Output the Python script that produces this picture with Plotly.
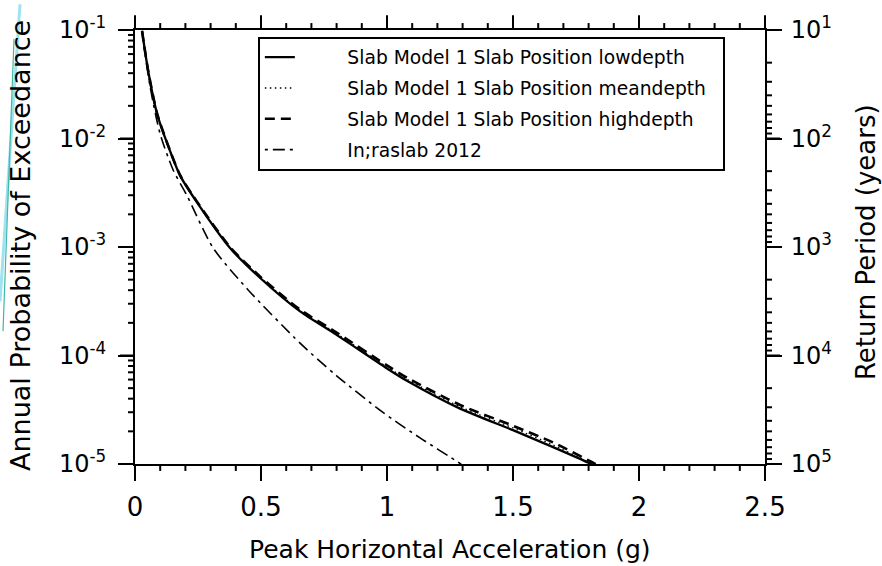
import math
import plotly.graph_objects as go

# ---- data ----
pha_low = [0.028, 0.052, 0.087, 0.127, 0.179, 0.246, 0.377, 0.50, 0.655, 0.80, 1.00, 1.079, 1.29, 1.50, 1.659, 1.794, 1.83]
poe_low = [0.098, 0.0423, 0.0171, 0.0091, 0.00455, 0.00258, 9.8e-4, 5.1e-4, 2.55e-4, 1.55e-4, 7.6e-5, 5.85e-5, 3.24e-5, 2.05e-5, 1.43e-5, 1.04e-5, 9.4e-6]

pha_mean = [0.028, 0.052, 0.087, 0.127, 0.179, 0.246, 0.377, 0.50, 0.655, 0.80, 1.00, 1.079, 1.29, 1.50, 1.659, 1.80, 1.84]
poe_mean = [0.098, 0.0423, 0.0171, 0.0091, 0.0046, 0.0026, 9.9e-4, 5.18e-4, 2.6e-4, 1.59e-4, 7.85e-5, 6.05e-5, 3.37e-5, 2.15e-5, 1.5e-5, 1.04e-5, 9.4e-6]

pha_high = [0.028, 0.052, 0.087, 0.127, 0.179, 0.246, 0.377, 0.50, 0.655, 0.80, 1.00, 1.079, 1.29, 1.50, 1.659, 1.81, 1.85]
poe_high = [0.098, 0.0424, 0.0172, 0.0092, 0.0046, 0.00262, 1.0e-3, 5.25e-4, 2.65e-4, 1.63e-4, 8.1e-5, 6.25e-5, 3.5e-5, 2.25e-5, 1.58e-5, 1.05e-5, 9.4e-6]

pha_intra = [0.028, 0.060, 0.099, 0.151, 0.206, 0.31, 0.45, 0.655, 0.80, 0.984, 1.131, 1.282, 1.31]
poe_intra = [0.098, 0.0301, 0.0112, 0.00515, 0.00299, 9.8e-4, 4.0e-4, 1.3e-4, 6.5e-5, 2.99e-5, 1.74e-5, 1.04e-5, 9.3e-6]

names = ["Slab Model 1 Slab Position lowdepth",
         "Slab Model 1 Slab Position meandepth",
         "Slab Model 1 Slab Position highdepth",
         "In;raslab 2012"]

# axes
X_RANGE = [0, 2.5]
LOGP_RANGE = [-5, -1]          # log10 of annual probability
LOGRP_RANGE = [5, 1]           # log10 of return period (reversed)
pha_major = [0, 0.5, 1.0, 1.5, 2.0, 2.5]
pha_labels = ["0", "0.5", "1", "1.5", "2", "2.5"]
pha_minor = [k / 10 for k in range(26) if k % 5 != 0]
poe_major = [1e-5, 1e-4, 1e-3, 1e-2, 1e-1]
poe_labels = ["10<sup>-5</sup>", "10<sup>-4</sup>", "10<sup>-3</sup>", "10<sup>-2</sup>", "10<sup>-1</sup>"]
poe_minor = [m * 10.0 ** e for e in range(-5, -1) for m in range(2, 10)]
rp_major = [1e1, 1e2, 1e3, 1e4, 1e5]
rp_labels = ["10<sup>1</sup>", "10<sup>2</sup>", "10<sup>3</sup>", "10<sup>4</sup>", "10<sup>5</sup>"]
rp_minor = [m * 10.0 ** e for e in range(1, 5) for m in range(2, 10)]

FONT = "DejaVu Sans"
NB = "\u00a0"
PW, PH = 630, 438   # plot-area size in px
MAJ, MIN = 15, 7    # tick lengths in px

fig = go.Figure()
styles = [dict(color="black", width=2.3),
          dict(color="black", width=1.3, dash="1.5px,3.5px"),
          dict(color="black", width=2.6, dash="10px,6px"),
          dict(color="black", width=1.6, dash="3px,5px,12px,5px")]
series = [(pha_low, poe_low), (pha_mean, poe_mean), (pha_high, poe_high), (pha_intra, poe_intra)]
for i, ((xs, ys), st) in enumerate(zip(series, styles)):
    label = NB * 8 + names[i] + (NB * 2 if i == 1 else "")
    fig.add_trace(go.Scatter(x=xs, y=ys, mode="lines", name=label,
                             legendgroup=f"g{i}", line=dict(shape="spline", smoothing=0.7, **st)))

fig.add_trace(go.Scatter(x=[None], y=[None], xaxis="x", yaxis="y2",
                         showlegend=False, hoverinfo="skip"))


# axis fractions (from the axis ranges) for the tick marks
def xf(v):
    return (v - X_RANGE[0]) / (X_RANGE[1] - X_RANGE[0])


def yf(v):
    return (math.log10(v) - LOGP_RANGE[0]) / (LOGP_RANGE[1] - LOGP_RANGE[0])


def y2f(v):
    return (math.log10(v) - LOGRP_RANGE[0]) / (LOGRP_RANGE[1] - LOGRP_RANGE[0])


tickline = dict(color="black", width=2)
shapes = []


def tick(x0, x1, y0, y1):
    shapes.append(dict(type="line", xref="paper", yref="paper", layer="below",
                       x0=x0, x1=x1, y0=y0, y1=y1, line=tickline))


for vals, L in [(pha_major, MAJ), (pha_minor, MIN)]:
    for v in vals:
        tick(xf(v), xf(v), 0, -L / PH)
        tick(xf(v), xf(v), 1, 1 + L / PH)
for vals, L in [(poe_major, MAJ), (poe_minor, MIN)]:
    for v in vals:
        tick(0, -L / PW, yf(v), yf(v))
for vals, L in [(rp_major, MAJ), (rp_minor, MIN)]:
    for v in vals:
        tick(1, 1 + L / PW, y2f(v), y2f(v))

# decorative slide lines at the top-left
shapes += [
    dict(type="line", xref="paper", yref="paper", layer="below",
         x0=(20 - 135) / PW, y0=(464 - 0) / PH, x1=(0 - 135) / PW, y1=(464 - 300) / PH,
         line=dict(color="#9fe3f0", width=3)),
    dict(type="line", xref="paper", yref="paper", layer="below",
         x0=(14 - 135) / PW, y0=(464 - 35) / PH, x1=(3 - 135) / PW, y1=(464 - 330) / PH,
         line=dict(color="#3fb8a8", width=1.2)),
]

axbase = dict(showline=True, linecolor="black", linewidth=2, showgrid=False, zeroline=False,
              ticks="outside", ticklen=MAJ, tickwidth=2, tickcolor="black")

fig.update_layout(
    width=882, height=566,
    margin=dict(l=135, r=117, t=26, b=102),
    paper_bgcolor="white", plot_bgcolor="white",
    font=dict(family=FONT, color="black"),
    showlegend=True,
    legend=dict(x=0.195, y=0.985, xanchor="left", yanchor="top",
                bordercolor="black", borderwidth=2, bgcolor="white",
                font=dict(size=18.7, family=FONT), tracegroupgap=3.5),
    xaxis=dict(range=X_RANGE, tickmode="array", tickvals=pha_major, ticktext=pha_labels,
               mirror=True, ticklabelstandoff=4,
               tickfont=dict(size=26, family=FONT), **axbase),
    yaxis=dict(type="log", range=LOGP_RANGE, tickmode="array", tickvals=poe_major,
               ticktext=poe_labels, ticklabelstandoff=7,
               tickfont=dict(size=24, family=FONT), **axbase),
    yaxis2=dict(type="log", range=LOGRP_RANGE, overlaying="y", side="right", anchor="x",
                tickmode="array", tickvals=rp_major, ticktext=rp_labels, ticklabelstandoff=4,
                tickfont=dict(size=24, family=FONT), **axbase),
    annotations=[
        dict(text="Peak Horizontal Acceleration (g)", xref="paper", yref="paper",
             x=0.5, y=(464 - 550) / PH, xanchor="center", yanchor="middle",
             showarrow=False, font=dict(size=25, family=FONT)),
        dict(text="Annual Probability of Exceedance", xref="paper", yref="paper",
             x=(20 - 135) / PW, y=(464 - 244) / PH, xanchor="center", yanchor="middle",
             textangle=-90, showarrow=False, font=dict(size=27, family=FONT)),
        dict(text="Return Period (years)", xref="paper", yref="paper",
             x=(866 - 135) / PW, y=(464 - 240) / PH, xanchor="center", yanchor="middle",
             textangle=-90, showarrow=False, font=dict(size=26, family=FONT)),
    ],
    shapes=shapes,
)

fig.write_html("out.html")
